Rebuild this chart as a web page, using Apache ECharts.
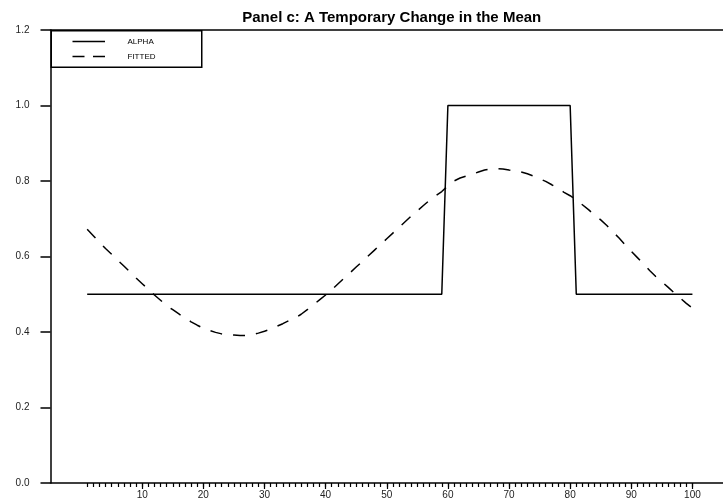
<!DOCTYPE html>
<html>
<head>
<meta charset="utf-8">
<style>
  html, body { margin: 0; padding: 0; background: #fff; }
  #chart { width: 723px; height: 503px; }
</style>
<script src="https://cdn.jsdelivr.net/npm/echarts@6/dist/echarts.min.js"></script>
</head>
<body>
<div id="chart"></div>
<script>
// Observation index
const periods = [
  1, 2, 3, 4, 5, 6, 7, 8, 9, 10, 11, 12, 13, 14, 15, 16, 17, 18, 19, 20,
  21, 22, 23, 24, 25, 26, 27, 28, 29, 30, 31, 32, 33, 34, 35, 36, 37, 38, 39, 40,
  41, 42, 43, 44, 45, 46, 47, 48, 49, 50, 51, 52, 53, 54, 55, 56, 57, 58, 59, 60,
  61, 62, 63, 64, 65, 66, 67, 68, 69, 70, 71, 72, 73, 74, 75, 76, 77, 78, 79, 80,
  81, 82, 83, 84, 85, 86, 87, 88, 89, 90, 91, 92, 93, 94, 95, 96, 97, 98, 99, 100
];

// True intercept: temporary shift in the mean
const alpha = [
  0.5, 0.5, 0.5, 0.5, 0.5, 0.5, 0.5, 0.5, 0.5, 0.5, 0.5, 0.5, 0.5, 0.5, 0.5, 0.5, 0.5, 0.5, 0.5, 0.5,
  0.5, 0.5, 0.5, 0.5, 0.5, 0.5, 0.5, 0.5, 0.5, 0.5, 0.5, 0.5, 0.5, 0.5, 0.5, 0.5, 0.5, 0.5, 0.5, 0.5,
  0.5, 0.5, 0.5, 0.5, 0.5, 0.5, 0.5, 0.5, 0.5, 0.5, 0.5, 0.5, 0.5, 0.5, 0.5, 0.5, 0.5, 0.5, 0.5, 1.0,
  1.0, 1.0, 1.0, 1.0, 1.0, 1.0, 1.0, 1.0, 1.0, 1.0, 1.0, 1.0, 1.0, 1.0, 1.0, 1.0, 1.0, 1.0, 1.0, 1.0,
  0.5, 0.5, 0.5, 0.5, 0.5, 0.5, 0.5, 0.5, 0.5, 0.5, 0.5, 0.5, 0.5, 0.5, 0.5, 0.5, 0.5, 0.5, 0.5, 0.5
];

// Smoothed estimate
const fitted = [
  0.672, 0.655, 0.638, 0.621, 0.606, 0.590, 0.575, 0.559, 0.543, 0.528,
  0.513, 0.498, 0.484, 0.470, 0.459, 0.448, 0.437, 0.427, 0.418, 0.410,
  0.404, 0.399, 0.395, 0.393, 0.392, 0.391, 0.391, 0.393, 0.397, 0.402,
  0.408, 0.415, 0.422, 0.430, 0.437, 0.447, 0.459, 0.472, 0.485, 0.498,
  0.512, 0.527, 0.542, 0.557, 0.572, 0.587, 0.602, 0.617, 0.632, 0.647,
  0.662, 0.677, 0.692, 0.707, 0.721, 0.735, 0.749, 0.761, 0.772, 0.787,
  0.800, 0.808, 0.813, 0.818, 0.824, 0.829, 0.832, 0.833, 0.832, 0.829,
  0.827, 0.824, 0.819, 0.813, 0.806, 0.799, 0.790, 0.780, 0.770, 0.761,
  0.750, 0.737, 0.724, 0.710, 0.697, 0.682, 0.665, 0.649, 0.631, 0.614,
  0.597, 0.580, 0.563, 0.547, 0.533, 0.519, 0.504, 0.490, 0.476, 0.463
];

const xLabelTicks = [10, 20, 30, 40, 50, 60, 70, 80, 90, 100];
const titleText = 'Panel c: A Temporary Change in the Mean';
const seriesNames = ['ALPHA', 'FITTED'];

const FONT = '"Liberation Sans", Arial, Helvetica, sans-serif';
const INK = '#000';

const chart = echarts.init(document.getElementById('chart'), null, { renderer: 'canvas' });

const pairs = (ys) => periods.map((p, i) => [p, ys[i]]);

const gridLeft = 50.5, gridTop = 30, gridBottom = 20;

chart.setOption({
  animation: false,
  backgroundColor: '#fff',
  title: {
    text: titleText,
    left: (gridLeft + 723) / 2,
    textAlign: 'center',
    top: 5,
    textStyle: { fontFamily: FONT, fontSize: 15, fontWeight: 'bold', color: INK }
  },
  grid: { left: gridLeft, right: 0, top: gridTop, bottom: gridBottom, containLabel: false },
  xAxis: [
    {
      type: 'value', min: -5, max: 105, position: 'bottom',
      axisLine: { show: true, onZero: false, lineStyle: { color: INK, width: 1.5 } },
      axisTick: { show: true, inside: false, length: 4, customValues: periods, lineStyle: { color: INK, width: 1.2 } },
      axisLabel: { show: true, customValues: xLabelTicks, margin: 7, fontFamily: FONT, fontSize: 10, color: '#222' },
      splitLine: { show: false }
    },
    {
      type: 'value', min: -5, max: 105, position: 'bottom',
      axisLine: { show: false, onZero: false },
      axisTick: { show: true, inside: false, length: 6, customValues: xLabelTicks, lineStyle: { color: INK, width: 1.2 } },
      axisLabel: { show: false },
      splitLine: { show: false }
    },
    {
      type: 'value', min: -5, max: 105, position: 'top',
      axisLine: { show: true, onZero: false, lineStyle: { color: INK, width: 1.5 } },
      axisTick: { show: false }, axisLabel: { show: false }, splitLine: { show: false }
    }
  ],
  yAxis: {
    type: 'value', min: 0, max: 1.2, interval: 0.2, position: 'left',
    axisLine: { show: true, onZero: false, lineStyle: { color: INK, width: 1.5 } },
    axisTick: { show: true, inside: false, length: 10, lineStyle: { color: INK, width: 1.5 } },
    axisLabel: {
      margin: 21, fontFamily: FONT, fontSize: 10, color: '#222',
      formatter: (v) => v.toFixed(1)
    },
    splitLine: { show: false }
  },
  series: [
    {
      name: seriesNames[0], type: 'line', xAxisIndex: 0, data: pairs(alpha),
      symbol: 'none', lineStyle: { color: INK, width: 1.5 }, z: 3
    },
    {
      name: seriesNames[1], type: 'line', xAxisIndex: 0, data: pairs(fitted),
      symbol: 'none', smooth: false,
      lineStyle: { color: INK, width: 1.5, type: [12, 11] }, z: 3
    }
  ],
  graphic: [
    {
      type: 'rect', left: gridLeft, top: gridTop,
      shape: { x: 0, y: 0, width: 150.5, height: 36.5 },
      style: { fill: '#fff', stroke: INK, lineWidth: 1.5 }, z: 10
    },
    {
      type: 'line', z: 11,
      shape: { x1: 72.5, y1: 41.5, x2: 105, y2: 41.5 },
      style: { stroke: INK, lineWidth: 1.5 }
    },
    {
      type: 'line', z: 11,
      shape: { x1: 72.5, y1: 56.5, x2: 105, y2: 56.5 },
      style: { stroke: INK, lineWidth: 1.5, lineDash: [12, 8.5] }
    },
    {
      type: 'text', z: 11, x: 127.5, y: 41.5,
      style: { text: seriesNames[0], font: '8px ' + FONT, fill: INK, verticalAlign: 'middle' }
    },
    {
      type: 'text', z: 11, x: 127.5, y: 56.5,
      style: { text: seriesNames[1], font: '8px ' + FONT, fill: INK, verticalAlign: 'middle' }
    }
  ]
});
</script>
</body>
</html>
